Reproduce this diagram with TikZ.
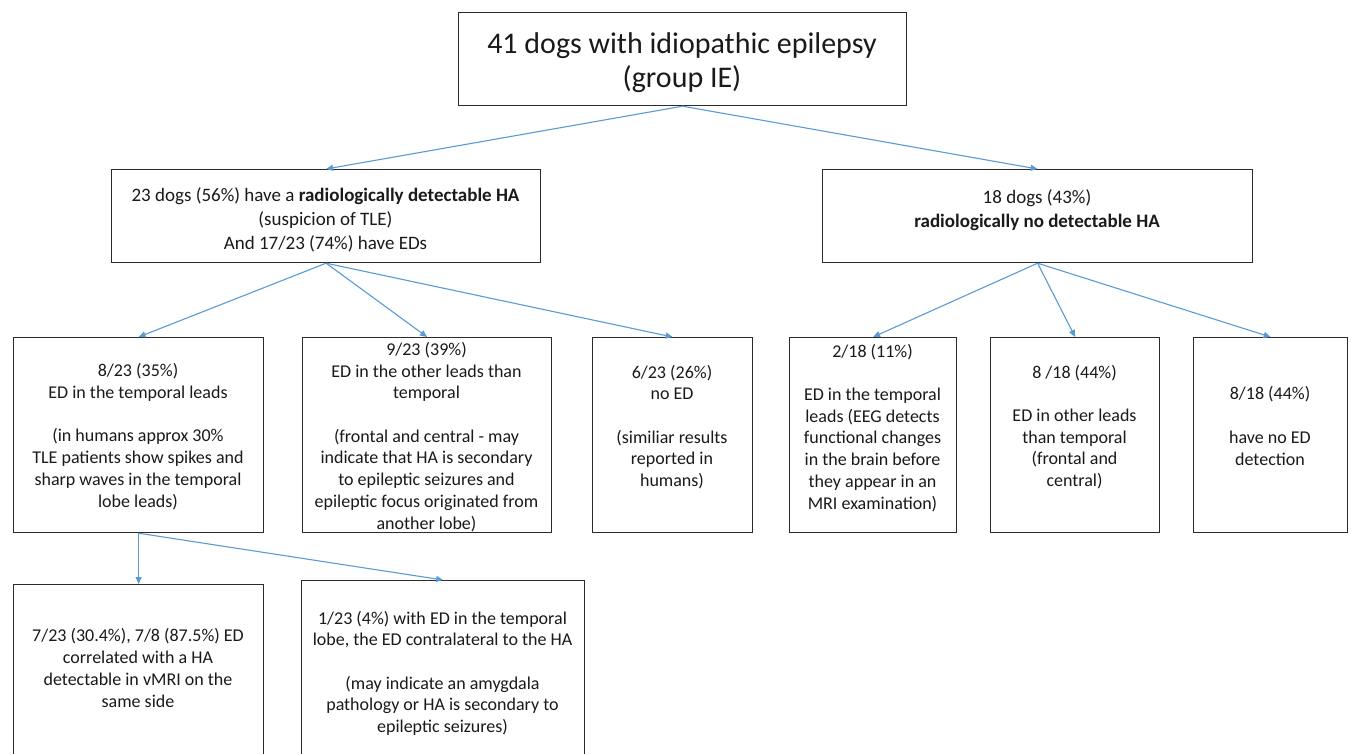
\documentclass[tikz,border=0pt]{standalone}
\usepackage{fontspec}
\setmainfont{Carlito}
\usetikzlibrary{arrows.meta}
\definecolor{arr}{HTML}{5B9BD5}
\definecolor{bord}{HTML}{2B2B2B}
\definecolor{txt}{HTML}{1A1A1A}
\begin{document}
\begin{tikzpicture}[x=1pt,y=-1pt,
  box/.style={draw=bord,line width=1.2pt,inner sep=0pt,anchor=north west},
  lbl/.style={align=center,anchor=base,inner sep=0pt,text=txt},
  tbig/.style={lbl,font=\fontsize{30}{34}\selectfont},
  tmid/.style={lbl,font=\fontsize{19}{24}\selectfont},
  tsm/.style={lbl,font=\fontsize{18}{21.7}\selectfont},
  conn/.style={draw=arr,line width=1.1pt,-{Triangle[length=7pt,width=6pt]}}
]
\useasboundingbox (0,0) rectangle (1351,754);
\clip (0,0) rectangle (1351,754);
\fill[white] (0,0) rectangle (1351,754);

% boxes
\node[box,minimum width=448pt,minimum height=93pt] (top) at (458,12) {};
\node[box,minimum width=429pt,minimum height=93pt] (lm) at (111,169) {};
\node[box,minimum width=430pt,minimum height=93pt] (rm) at (822,169) {};
\node[box,minimum width=250pt,minimum height=195pt] (b1) at (13,337) {};
\node[box,minimum width=249pt,minimum height=195pt] (b2) at (302,337) {};
\node[box,minimum width=160pt,minimum height=195pt] (b3) at (592,337) {};
\node[box,minimum width=167pt,minimum height=195pt] (b4) at (789,337) {};
\node[box,minimum width=169pt,minimum height=195pt] (b5) at (990,337) {};
\node[box,minimum width=154pt,minimum height=195pt] (b6) at (1193,337) {};
\node[box,minimum width=250pt,minimum height=200pt] (b7) at (13,584) {};
\node[box,minimum width=283pt,minimum height=200pt] (b8) at (301,580) {};

% texts (anchor = baseline of the last line)
\node[tbig] (ttop) at (682,88) {41 dogs with idiopathic epilepsy\\(group IE)};
\node[tmid] (tlm) at (325.5,249) {23 dogs (56\%) have a \textbf{radiologically detectable HA}\\(suspicion of TLE)\\And 17/23 (74\%) have EDs};
\node[tmid] (trm) at (1037,227) {18 dogs (43\%)\\\textbf{radiologically no detectable HA}};
\node[tsm] (tb1) at (138,507) {8/23 (35\%)\\ED in the temporal leads\\[21.7pt](in humans approx 30\%\\TLE patients show spikes and\\sharp waves in the temporal\\lobe leads)};
\node[tsm] (tb2) at (426.5,529) {9/23 (39\%)\\ED in the other leads than\\temporal\\[21.7pt](frontal and central - may\\indicate that HA is secondary\\to epileptic seizures and\\epileptic focus originated from\\another lobe)};
\node[tsm] (tb3) at (672,486.5) {6/23 (26\%)\\no ED\\[21.7pt](similiar results\\reported in\\humans)};
\node[tsm] (tb4) at (872.5,509) {2/18 (11\%)\\[21.7pt]ED in the temporal\\leads (EEG detects\\functional changes\\in the brain before\\they appear in an\\MRI examination)};
\node[tsm] (tb5) at (1074.5,486.5) {8 /18 (44\%)\\[21.7pt]ED in other leads\\than temporal\\(frontal and\\central)};
\node[tsm] (tb6) at (1270,465) {8/18 (44\%)\\[21.7pt]have no ED\\detection};
\node[tsm] (tb7) at (138,707) {7/23 (30.4\%), 7/8 (87.5\%) ED\\correlated with a HA\\detectable in vMRI on the\\same side};
\node[tsm] (tb8) at (442.5,732.5) {1/23 (4\%) with ED in the temporal\\lobe, the ED contralateral to the HA\\[21.7pt](may indicate an amygdala\\pathology or HA is secondary to\\epileptic seizures)};

% connectors
\draw[conn] (top.south) -- (lm.north);
\draw[conn] (top.south) -- (rm.north);
\draw[conn] (lm.south) -- (b1.north);
\draw[conn] (lm.south) -- (b2.north);
\draw[conn] (lm.south) -- (b3.north);
\draw[conn] (rm.south) -- (b4.north);
\draw[conn] (rm.south) -- (b5.north);
\draw[conn] (rm.south) -- (b6.north);
\draw[conn] (b1.south) -- (b7.north);
\draw[conn] (b1.south) -- (b8.north);
\end{tikzpicture}
\end{document}
